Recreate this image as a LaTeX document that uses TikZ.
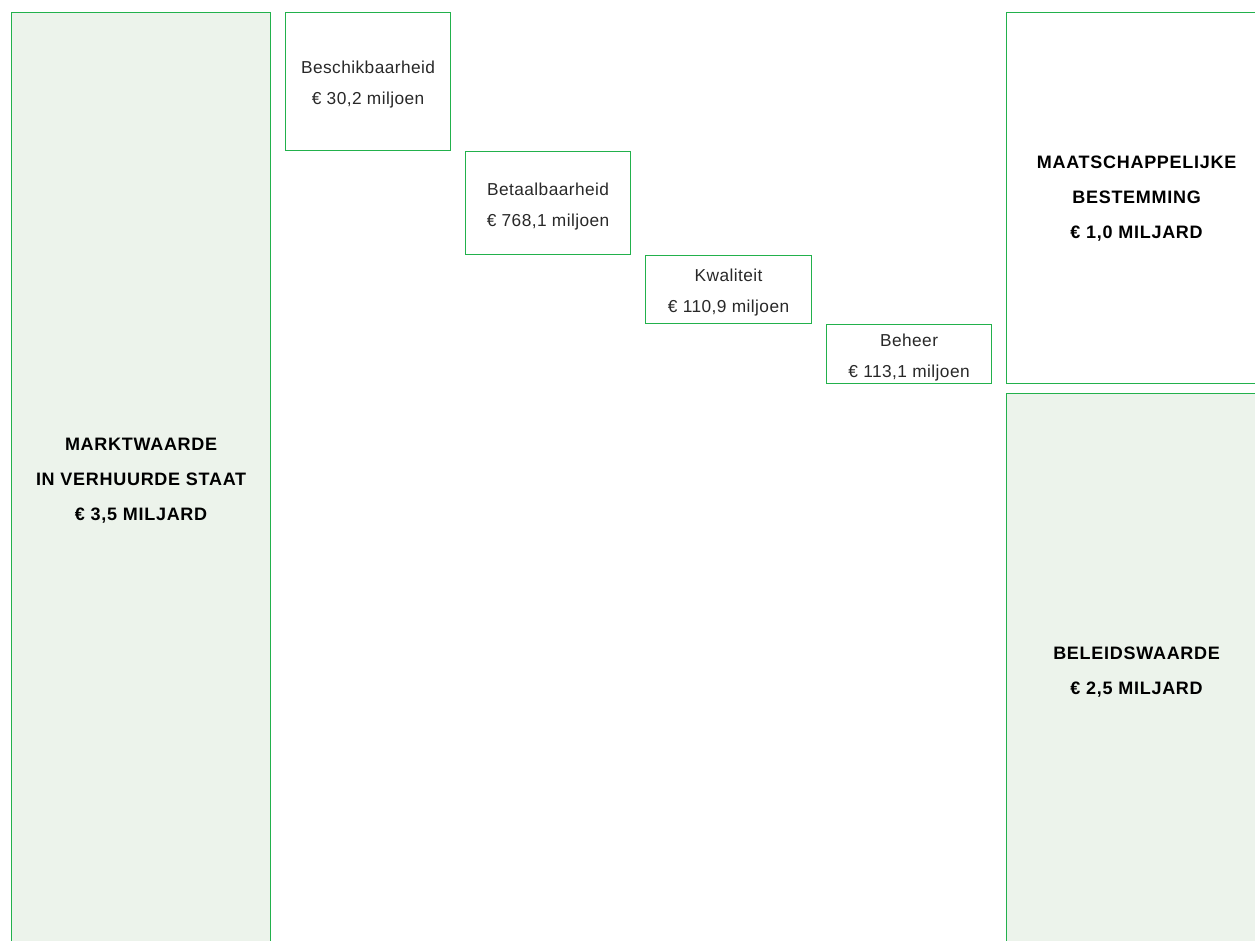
\documentclass[tikz,border=0pt]{standalone}
\usepackage{fontspec}
\setmainfont{Liberation Sans}
\definecolor{frame}{RGB}{34,177,76}
\definecolor{paleleaf}{RGB}{236,243,235}
\definecolor{ink}{RGB}{40,40,40}
\begin{document}
\begin{tikzpicture}[x=1pt,y=-1pt,
  box/.style={draw=frame, line width=1.2pt, anchor=north west, inner sep=0pt},
  valuebox/.style={box, fill=paleleaf},
  small/.style={align=center, inner sep=0pt, text=ink, yshift=-3pt,
    font=\fontsize{17.3}{31}\selectfont\addfontfeatures{LetterSpace=2.5}},
  big/.style={align=center, inner sep=0pt, text=black, yshift=-0.5pt,
    font=\fontsize{18}{35}\selectfont\bfseries\addfontfeatures{LetterSpace=4}}]
\useasboundingbox (0,0) rectangle (1255,940);
\clip (0,0) rectangle (1255,940);

% market value column
\node[valuebox, minimum width=259pt, minimum height=936pt] (markt) at (11,12) {};
\node[big] (markttext) at (markt.center)
  {MARKTWAARDE\\IN VERHUURDE STAAT\\€ 3,5 MILJARD};

% the four steps down
\node[box, minimum width=165pt, minimum height=138pt] (beschik) at (285,12) {};
\node[small] (beschiktext) at (beschik.center) {Beschikbaarheid\\€ 30,2 miljoen};
\node[box, minimum width=165pt, minimum height=103pt] (betaal) at (465,151) {};
\node[small] (betaaltext) at (betaal.center) {Betaalbaarheid\\€ 768,1 miljoen};
\node[box, minimum width=166pt, minimum height=68pt] (kwal) at (645,255) {};
\node[small] (kwaltext) at (kwal.center) {Kwaliteit\\€ 110,9 miljoen};
\node[box, minimum width=165pt, minimum height=59pt] (beheer) at (826,324) {};
\node[small] (beheertext) at (beheer.center) {Beheer\\€ 113,1 miljoen};

% result columns
\node[box, minimum width=260pt, minimum height=371pt] (maatsch) at (1006,12) {};
\node[big] (maatschtext) at (maatsch.center)
  {MAATSCHAPPELIJKE\\BESTEMMING\\€ 1,0 MILJARD};
\node[valuebox, minimum width=260pt, minimum height=555pt] (beleid) at (1006,393) {};
\node[big] (beleidtext) at (beleid.center) {BELEIDSWAARDE\\€ 2,5 MILJARD};
\end{tikzpicture}
\end{document}
